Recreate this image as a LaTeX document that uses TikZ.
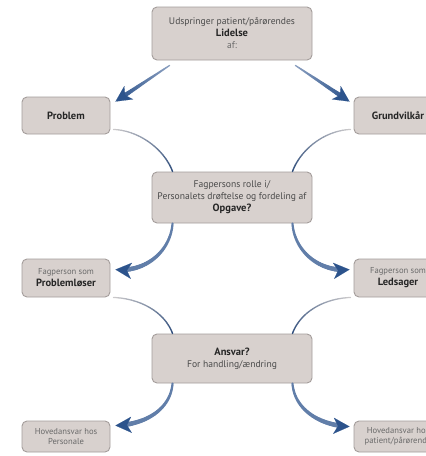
\documentclass[tikz,border=0pt]{standalone}
\usepackage{fontspec}
\setmainfont{PT Sans}
\usetikzlibrary{arrows.meta,calc}

\definecolor{boxfill}{HTML}{D8D1CE}
\definecolor{boxline}{HTML}{A49D9B}
\definecolor{flowdark}{HTML}{2C538C}
\definecolor{flowlight}{HTML}{8EA2C2}
\definecolor{linkgray}{HTML}{D0CDCD}
\definecolor{linkblue}{HTML}{35527F}
\definecolor{txtdark}{HTML}{262626}
\definecolor{txtmid}{HTML}{4A4A4A}
\definecolor{txtsoft}{HTML}{6A6A6A}

\newcommand{\lighttxt}{\fontsize{9.6}{13}\selectfont}
\newcommand{\smalltxt}{\fontsize{8.6}{12}\selectfont}
\newcommand{\headtxt}{\fontsize{10.5}{13.5}\selectfont\bfseries}

% Stroke a path in small pieces so that width and colour change along it.
% #1 path, #2 pieces, #3 start width, #4 end width, #5 start colour, #6 end colour, #7 pieces left for the tip
\newcommand{\flowstroke}[7]{%
  \path #1 \foreach \k in {0,...,#2}{ coordinate[pos=\k/#2] (fs\k) };%
  \pgfmathtruncatemacro\fslast{#2-#7}%
  \foreach \k in {1,...,\fslast}{%
    \pgfmathtruncatemacro\fsprev{\k-1}%
    \pgfmathsetmacro\fsw{#3+(#4-#3)*\k/#2}%
    \pgfmathtruncatemacro\fspc{100*\k/#2}%
    \draw[line width=\fsw pt, line cap=round, color={#6!\fspc!#5}] (fs\fsprev) -- (fs\k);
  }%
}
% Same, ending in an arrow head.
\newcommand{\flowarrow}[6]{%
  \flowstroke{#1}{#2}{#3}{#4}{#5}{#6}{4}%
  \pgfmathtruncatemacro\fsbefore{#2-1}%
  \draw[line width=0.1pt, color=#6, -{Stealth[length=16pt,width=16pt,inset=4.5pt]}] (fs\fsbefore) -- (fs#2);
}

\tikzset{
  box/.style={draw=boxline, fill=boxfill, line width=0.9pt, rounded corners=5pt,
    align=center, inner sep=1pt, text=txtdark},
  widebox/.style={box, minimum width=160pt},
  sidebox/.style={box, minimum width=88pt},
}

\begin{document}
\begin{tikzpicture}[x=1pt, y=-1pt]
  \clip (0,0) rectangle (426,456);
  \fill[white] (0,0) rectangle (426,456);

  % boxes
  \node[widebox, minimum height=53pt] (top) at (232,33.5)
    {{\lighttxt\color{txtmid}Udspringer patient/pårørendes}\\
     {\headtxt Lidelse}\\
     {\lighttxt\color{txtsoft}af:}};
  \node[sidebox, minimum height=37pt] (prob) at (66,115.5) {\headtxt Problem};
  \node[sidebox, minimum height=37pt] (grund) at (398,115.5) {\headtxt Grundvilkår};

  \node[widebox, minimum height=51pt] (mid) at (232,197.5)
    {{\lighttxt\color{txtmid}Fagpersons rolle i/}\\
     {\lighttxt\color{txtmid}Personalets drøftelse og fordeling af}\\
     {\headtxt Opgave?}};

  \node[sidebox, minimum height=38pt] (solver) at (66,278)
    {{\smalltxt\color{txtsoft}Fagperson som}\\{\headtxt Problemløser}};
  \node[sidebox, minimum height=38pt] (guide) at (398,278)
    {{\smalltxt\color{txtsoft}Fagperson som}\\{\headtxt Ledsager}};

  \node[widebox, minimum height=49pt] (resp) at (232,358.5)
    {{\headtxt Ansvar?}\\
     {\lighttxt\color{txtmid}For handling/ændring}};

  \node[sidebox, minimum height=31pt] (staff) at (66,436.5)
    {{\smalltxt\color{txtsoft}Hovedansvar hos}\\[-2pt]{\smalltxt\color{txtsoft}Personale}};
  \node[sidebox, minimum height=31pt] (family) at (398,436.5)
    {{\smalltxt\color{txtsoft}Hovedansvar hos}\\[-2pt]{\smalltxt\color{txtsoft}patient/pårørende}};

  % connector ends
  \coordinate (t1) at ($(top.south west)+(18,5)$);
  \coordinate (t2) at ($(top.south east)+(-17,5)$);
  \coordinate (p1) at ($(prob.north east)+(5,5)$);
  \coordinate (g1) at ($(grund.north west)+(-4,5)$);
  \coordinate (p2) at ($(prob.south east)+(3,-5)$);
  \coordinate (g2) at ($(grund.south west)+(-3,-5)$);
  \coordinate (m1) at ($(mid.north west)+(21,0)$);
  \coordinate (m2) at ($(mid.north east)+(-20,0)$);
  \coordinate (m3) at ($(mid.south west)+(21,0)$);
  \coordinate (m4) at ($(mid.south east)+(-20,0)$);
  \coordinate (s1) at ($(solver.north east)+(5,11)$);
  \coordinate (l1) at ($(guide.north west)+(-4,11)$);
  \coordinate (s2) at ($(solver.south east)+(3,0)$);
  \coordinate (l2) at ($(guide.south west)+(-3,0)$);
  \coordinate (r1) at ($(resp.north west)+(21,0)$);
  \coordinate (r2) at ($(resp.north east)+(-20,0)$);
  \coordinate (r3) at ($(resp.south west)+(21,0)$);
  \coordinate (r4) at ($(resp.south east)+(-20,0)$);
  \coordinate (h1) at ($(staff.north east)+(5,5)$);
  \coordinate (h2) at ($(family.north west)+(-4,6)$);

  % thick arrows
  \flowarrow{(t1) -- (p1)}{30}{1.2}{4.8}{flowlight}{flowdark}
  \flowarrow{(t2) -- (g1)}{30}{1.2}{4.8}{flowlight}{flowdark}
  \flowarrow{(m3) .. controls +(-2,28) and +(30,3) .. (s1)}{36}{2}{5}{flowdark!75!white}{flowdark}
  \flowarrow{(m4) .. controls +(2,28) and +(-30,3) .. (l1)}{36}{2}{5}{flowdark!75!white}{flowdark}
  \flowarrow{(r3) .. controls +(-2,26) and +(30,-1) .. (h1)}{36}{2}{5}{flowdark!75!white}{flowdark}
  \flowarrow{(r4) .. controls +(2,26) and +(-30,-1) .. (h2)}{36}{2}{5}{flowdark!75!white}{flowdark}

  % thin links
  \flowstroke{(p2) .. controls +(26,1) and +(-8,-22) .. (m1)}{30}{1.2}{1.4}{linkgray}{linkblue}{0}
  \flowstroke{(g2) .. controls +(-26,1) and +(8,-22) .. (m2)}{30}{1.2}{1.4}{linkgray}{linkblue}{0}
  \flowstroke{(s2) .. controls +(26,1) and +(-8,-22) .. (r1)}{30}{1.2}{1.4}{linkgray}{linkblue}{0}
  \flowstroke{(l2) .. controls +(-26,1) and +(8,-22) .. (r2)}{30}{1.2}{1.4}{linkgray}{linkblue}{0}
\end{tikzpicture}
\end{document}
